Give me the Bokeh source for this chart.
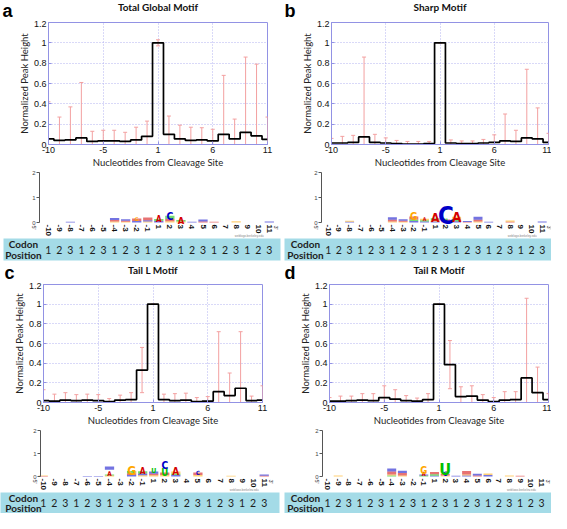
import math
from bokeh.plotting import figure
from bokeh.models import Range1d, FixedTicker, ColumnDataSource
from bokeh.layouts import row, column
from bokeh.embed import file_html
from bokeh.resources import INLINE
from bokeh.core.properties import value

# ---------------- data ----------------
positions = [-10, -9, -8, -7, -6, -5, -4, -3, -2, -1, 1, 2, 3, 4, 5, 6, 7, 8, 9, 10, 11]
axis_tick_positions = [-10, -5, 1, 6, 11]
y_ticks = [0, 0.2, 0.4, 0.6, 0.8, 1.0, 1.2]
bits_ticks = [0, 1, 2]
codon_position = [1, 2, 3, 1, 2, 3, 1, 2, 3, 1, 2, 3, 1, 2, 3, 1, 2, 3, 1, 2, 3]

title_a = "Total Global Motif"
title_b = "Sharp Motif"
title_c = "Tail L Motif"
title_d = "Tail R Motif"

peak_a = [0.055, 0.04, 0.045, 0.065, 0.03, 0.035, 0.035, 0.03, 0.045, 0.08, 1.0,
          0.1, 0.055, 0.04, 0.045, 0.035, 0.1, 0.055, 0.12, 0.085, 0.05]
err_a = [0.365, 0.23, 0.325, 0.545, 0.10, 0.105, 0.105, 0.09, 0.125, 0.15, 0.03,
         0.18, 0.135, 0.13, 0.12, 0.115, 0.58, 0.195, 0.74, 0.705, 0.22]

peak_b = [0.015, 0.015, 0.02, 0.075, 0.02, 0.015, 0.01, 0.005, 0.005, 0.01, 1.0,
          0.015, 0.01, 0.008, 0.015, 0.02, 0.035, 0.03, 0.065, 0.055, 0.02]
err_b = [0.045, 0.065, 0.07, 0.785, 0.08, 0.05, 0.03, 0.025, 0.025, 0.02, 0.0,
         0.03, 0.025, 0.027, 0.035, 0.075, 0.265, 0.11, 0.675, 0.305, 0.09]

peak_c = [0.02, 0.015, 0.025, 0.02, 0.025, 0.02, 0.01, 0.025, 0.03, 0.33, 1.0,
          0.03, 0.02, 0.025, 0.01, 0.015, 0.11, 0.07, 0.145, 0.02, 0.025]
err_c = [0.11, 0.07, 0.075, 0.06, 0.06, 0.06, 0.03, 0.05, 0.07, 0.23, 0.0,
         0.055, 0.07, 0.07, 0.04, 0.045, 0.61, 0.23, 0.575, 0.045, 0.145]

peak_d = [0.015, 0.015, 0.02, 0.025, 0.02, 0.05, 0.035, 0.02, 0.015, 0.03, 1.0,
          0.385, 0.06, 0.065, 0.025, 0.01, 0.025, 0.03, 0.25, 0.1, 0.03]
err_d = [0.035, 0.05, 0.045, 0.065, 0.07, 0.12, 0.095, 0.05, 0.03, 0.06, 0.0,
         0.245, 0.10, 0.105, 0.055, 0.04, 0.085, 0.08, 0.81, 0.26, 0.06]

# sequence logos: (position, stack of (letter, bits) from bottom to top)
logo_a = [
    (-8, [("C", 0.03)]),
    (-4, [("G", 0.04), ("A", 0.06), ("C", 0.08)]),
    (-3, [("G", 0.03), ("A", 0.04), ("C", 0.06)]),
    (-2, [("C", 0.06), ("A", 0.10), ("G", 0.15)]),
    (-1, [("G", 0.04), ("C", 0.05), ("A", 0.11)]),
    (1, [("C", 0.06), ("U", 0.08), ("A", 0.23)]),
    (2, [("G", 0.05), ("A", 0.09), ("U", 0.13), ("C", 0.30)]),
    (3, [("G", 0.04), ("U", 0.06), ("A", 0.27)]),
    (4, [("C", 0.03)]),
    (5, [("A", 0.04), ("C", 0.08)]),
    (6, [("A", 0.03)]),
    (8, [("G", 0.05)]),
    (11, [("C", 0.04)]),
]
logo_b = [
    (-8, [("C", 0.03), ("G", 0.04)]),
    (-4, [("G", 0.04), ("A", 0.07), ("C", 0.10)]),
    (-3, [("G", 0.03), ("A", 0.04), ("C", 0.06)]),
    (-2, [("C", 0.06), ("U", 0.06), ("A", 0.12), ("G", 0.29)]),
    (-1, [("C", 0.04), ("U", 0.05), ("G", 0.06), ("A", 0.15)]),
    (1, [("C", 0.04), ("G", 0.05), ("U", 0.08), ("A", 0.35)]),
    (2, [("G", 0.04), ("A", 0.08), ("U", 0.14), ("C", 0.69)]),
    (3, [("C", 0.05), ("U", 0.08), ("G", 0.10), ("A", 0.39)]),
    (4, [("A", 0.02), ("C", 0.04)]),
    (5, [("G", 0.04), ("A", 0.07), ("C", 0.12)]),
    (6, [("C", 0.03)]),
    (8, [("A", 0.03), ("G", 0.05)]),
    (11, [("C", 0.04)]),
]
logo_c = [
    (-10, [("A", 0.02), ("G", 0.02)]),
    (-6, [("C", 0.02)]),
    (-5, [("C", 0.02)]),
    (-4, [("G", 0.04), ("U", 0.05), ("A", 0.20), ("C", 0.14)]),
    (-2, [("C", 0.06), ("A", 0.08), ("U", 0.10), ("G", 0.38)]),
    (-1, [("G", 0.05), ("C", 0.08), ("U", 0.10), ("A", 0.26)]),
    (1, [("G", 0.05), ("A", 0.07), ("C", 0.10), ("U", 0.22)]),
    (2, [("G", 0.07), ("A", 0.10), ("U", 0.30), ("C", 0.32)]),
    (3, [("C", 0.06), ("U", 0.07), ("G", 0.09), ("A", 0.31)]),
    (5, [("G", 0.07), ("A", 0.10), ("C", 0.18)]),
    (8, [("G", 0.03)]),
    (11, [("A", 0.03), ("C", 0.06)]),
]
logo_d = [
    (-9, [("G", 0.04)]),
    (-4, [("U", 0.04), ("G", 0.05), ("A", 0.13), ("C", 0.13)]),
    (-3, [("G", 0.04), ("A", 0.11), ("C", 0.10)]),
    (-1, [("U", 0.04), ("C", 0.05), ("A", 0.18), ("G", 0.30)]),
    (1, [("C", 0.03), ("U", 0.07), ("A", 0.10)]),
    (2, [("G", 0.04), ("A", 0.08), ("C", 0.19), ("U", 0.51)]),
    (3, [("C", 0.03)]),
    (4, [("C", 0.04), ("G", 0.05), ("A", 0.15)]),
    (5, [("A", 0.04), ("C", 0.08)]),
    (6, [("C", 0.07), ("G", 0.06)]),
    (8, [("G", 0.04)]),
    (9, [("A", 0.03)]),
]

# ---------------- style / layout ----------------
FRAME_BLUE = "#9292e4"
GRID_BLUE = "#b3b3f0"
PINK = "#f3a0a0"
CYAN = "#a4dbe7"
LETTER_COLORS = {"A": "#d40000", "C": "#0000c8", "G": "#ffa800", "U": "#00bf00"}
LOGO_FONT = "Liberation Sans Narrow, DejaVu Sans Condensed, Liberation Sans"
TICK_FONT = "Liberation Sans"
LABEL_FONT = "Lato"

# sp = px per nucleotide column in logo / codon rows
LAY = {
    "a": dict(W=281, row="top", s_left=48, s_fw=219, axis_x=39, col0=47.8, sp=11.05,
              bar_left=3, bar_right=1, codon_cx=23, letter_x=2),
    "b": dict(W=270, row="top", s_left=50, s_fw=217, axis_x=40, col0=46.7, sp=10.7,
              bar_left=3, bar_right=0, codon_cx=24, letter_x=3),
    "c": dict(W=281, row="bottom", s_left=43, s_fw=219, axis_x=40, col0=42.7, sp=11.05,
              bar_left=0, bar_right=2, codon_cx=23, letter_x=4),
    "d": dict(W=270, row="bottom", s_left=48, s_fw=219, axis_x=41, col0=46.0, sp=10.7,
              bar_left=3, bar_right=0, codon_cx=24, letter_x=3),
}
# header: y measured in px from the header's bottom edge
ROWS = {
    "top": dict(head_h=20, title_y=14, letter_y=10, s_h=150, s_top=2, s_fh=122,
                logo_h=68, zero=52, ppb=25.0, codon_h=24, bar_top=0, bar_bot=2),
    "bottom": dict(head_h=20, title_y=13, letter_y=10, s_h=146, s_top=2, s_fh=118,
                   logo_h=63, zero=48, ppb=23.0, codon_h=22, bar_top=1, bar_bot=0),
}


def bare_fig(W, H, xr, yr, left=0, right=0, top=0, bottom=0, **kw):
    f = figure(x_range=xr, y_range=yr, output_backend="svg",
               toolbar_location=None, x_axis_location=None, y_axis_location=None,
               frame_width=W - left - right, frame_height=H - top - bottom,
               min_border_left=left, min_border_right=right,
               min_border_top=top, min_border_bottom=bottom, frame_align=False, **kw)
    f.title.visible = False
    f.grid.visible = False
    f.outline_line_color = None
    return f


def build_panel(key, mean, err, logo, title):
    L = LAY[key]
    R = ROWS[L["row"]]
    W = L["W"]
    SP = L["sp"]
    n = len(positions)
    xi = list(range(n))
    ppb = R["ppb"]

    # ---- header: panel letter and title ----
    hh = R["head_h"]
    hd = bare_fig(W, hh, Range1d(0, W), Range1d(0, hh))
    hd.text(x=[L["letter_x"]], y=[R["letter_y"]], text=[key], text_align="left",
            text_baseline="middle", text_font=value(TICK_FONT), text_font_style="bold",
            text_font_size="18px", text_color="black")
    hd.text(x=[L["s_left"] + L["s_fw"] / 2], y=[R["title_y"]], text=[title],
            text_align="center", text_baseline="middle", text_font=value(LABEL_FONT),
            text_font_style="bold", text_font_size="10px", text_color="#111111")

    # ---- peak-height step plot ----
    p = figure(width=W, height=R["s_h"], x_range=Range1d(0, n - 1), y_range=Range1d(0, 1.2),
               output_backend="svg", toolbar_location=None, frame_align=False,
               min_border_left=L["s_left"], min_border_right=W - L["s_left"] - L["s_fw"],
               min_border_top=R["s_top"], min_border_bottom=R["s_h"] - R["s_top"] - R["s_fh"])
    p.title.visible = False
    lo = [m - e for m, e in zip(mean, err)]
    up = [m + e for m, e in zip(mean, err)]
    src = ColumnDataSource(dict(x=xi, mean=mean, lo=lo, up=up))
    p.segment(x0="x", y0="lo", x1="x", y1="up", source=src, line_color=PINK, line_width=1)
    p.scatter(x="x", y="up", source=src, marker="dash", size=4, line_color=PINK, line_width=1)
    p.scatter(x="x", y="lo", source=src, marker="dash", size=4, line_color=PINK, line_width=1)
    p.step(x="x", y="mean", source=src, mode="center", line_color="black", line_width=1.7)

    xt = FixedTicker(ticks=[positions.index(t) for t in axis_tick_positions])
    p.xaxis.ticker = xt
    p.xgrid.ticker = xt
    p.xaxis.major_label_overrides = {positions.index(t): str(t) for t in axis_tick_positions}
    yt = FixedTicker(ticks=y_ticks)
    p.yaxis.ticker = yt
    p.ygrid.ticker = yt
    p.yaxis.major_label_overrides = {t: f"{t:g}" for t in y_ticks}
    p.grid.grid_line_color = GRID_BLUE
    p.grid.grid_line_dash = "1 2"
    p.outline_line_color = FRAME_BLUE
    p.axis.axis_line_color = FRAME_BLUE
    p.axis.major_tick_line_color = FRAME_BLUE
    p.axis.major_tick_in = 3
    p.axis.major_tick_out = 0
    p.axis.minor_tick_line_color = None
    p.axis.major_label_text_font = TICK_FONT
    p.axis.major_label_text_font_size = "9px"
    p.axis.major_label_text_color = "#111111"
    p.axis.major_label_standoff = 2
    p.axis.axis_label_text_font = LABEL_FONT
    p.axis.axis_label_text_font_size = "9.5px"
    p.axis.axis_label_text_font_style = "normal"
    p.axis.axis_label_text_color = "#222222"
    p.axis.axis_label_standoff = 1
    p.xaxis.axis_label = "Nucleotides from Cleavage Site"
    p.yaxis.axis_label = "Normalized Peak Height"

    # ---- sequence logo ----
    logo_right = 1
    frame_l = L["axis_x"] - 12
    xs = (frame_l - L["col0"]) / SP
    xe = xs + (W - frame_l - logo_right) / SP
    lg = figure(width=W, height=R["logo_h"], x_range=Range1d(xs, xe),
                y_range=Range1d(-(R["logo_h"] - R["zero"]) / ppb, R["zero"] / ppb),
                output_backend="svg", toolbar_location=None, x_axis_location=None,
                min_border_left=frame_l, min_border_right=logo_right,
                min_border_top=0, min_border_bottom=0, frame_align=False)
    lg.title.visible = False
    lg.grid.visible = False
    lg.outline_line_color = None
    lg.yaxis.fixed_location = (L["axis_x"] - L["col0"]) / SP
    lg.yaxis.ticker = FixedTicker(ticks=bits_ticks)
    lg.yaxis.bounds = (0, 2)
    lg.yaxis.axis_line_color = "#555555"
    lg.yaxis.major_tick_line_color = "#555555"
    lg.yaxis.minor_tick_line_color = None
    lg.yaxis.major_tick_out = 3
    lg.yaxis.major_tick_in = 0
    lg.yaxis.major_label_text_font_size = "6px"
    lg.yaxis.major_label_standoff = 1
    lg.yaxis.axis_label = "bits"
    lg.yaxis.axis_label_text_font_size = "6px"
    lg.yaxis.axis_label_text_font_style = "normal"
    lg.yaxis.axis_label_standoff = 2

    tx, ty, tt, tc, tf = [], [], [], [], []
    ql, qr, qb, qt, qc = [], [], [], [], []
    for pos, stack in logo:
        xc = positions.index(pos)
        y0 = 0.0
        for letter, h in stack:
            hp = h * ppb
            if hp >= 3.5:
                tx.append(xc)
                ty.append(y0)
                tt.append(letter)
                tc.append(LETTER_COLORS[letter])
                tf.append(f"{hp / 0.72:.1f}px")
            else:
                ql.append(xc - 0.42)
                qr.append(xc + 0.42)
                qb.append(y0)
                qt.append(y0 + h)
                qc.append(LETTER_COLORS[letter])
            y0 += h
    lg.quad(left=ql, right=qr, bottom=qb, top=qt, fill_color=qc, line_color=None, fill_alpha=0.55)
    lg.text(x=tx, y=ty, text=tt, text_color=tc, text_font_size=tf,
            text_font=value(LOGO_FONT), text_font_style="bold",
            text_align="center", text_baseline="alphabetic")
    lg.text(x=xi, y=[-2 / ppb] * n, text=[str(v) for v in positions], angle=-math.pi / 2,
            text_align="left", text_baseline="middle", text_font=value(TICK_FONT),
            text_font_style="bold", text_font_size="8px", text_color="#111111")
    x3 = n - 1 + 6.5 / SP
    lg.text(x=[(L["axis_x"] - 6 - L["col0"]) / SP, x3], y=[-3 / ppb, -3 / ppb],
            text=["5'", "3'"], angle=-math.pi / 2, text_align="left", text_baseline="middle",
            text_font=value(TICK_FONT), text_font_size="5.5px", text_color="#333333")
    lg.text(x=[n - 1 - 20 / SP], y=[-13 / ppb], text=["weblogo.berkeley.edu"],
            text_align="center", text_baseline="middle",
            text_font=value(TICK_FONT), text_font_size="3px", text_color="#888888")

    # ---- codon position bar ----
    cs = (L["bar_left"] - L["col0"]) / SP
    ce = (W - L["bar_right"] - L["col0"]) / SP
    cf = bare_fig(W, R["codon_h"], Range1d(cs, ce), Range1d(0, 1),
                  left=L["bar_left"], right=L["bar_right"], top=R["bar_top"],
                  bottom=R["bar_bot"], background_fill_color=CYAN)
    cf.text(x=xi, y=[0.5] * n, text=[str(c) for c in codon_position],
            text_align="center", text_baseline="middle", text_font=value(LABEL_FONT),
            text_font_size="10.5px", text_color="#1d1d1d")
    cx = (L["codon_cx"] - L["col0"]) / SP
    cf.text(x=[cx, cx], y=[0.76, 0.24], text=["Codon", "Position"], text_align="center",
            text_baseline="middle", text_font=value(LABEL_FONT), text_font_style="bold",
            text_font_size="10px", text_color="#1d1d1d")

    return column(hd, p, lg, cf, spacing=0)


pa = build_panel("a", peak_a, err_a, logo_a, title_a)
pb = build_panel("b", peak_b, err_b, logo_b, title_b)
pc = build_panel("c", peak_c, err_c, logo_c, title_c)
pd = build_panel("d", peak_d, err_d, logo_d, title_d)

layout = column(row(pa, pb, spacing=0), row(pc, pd, spacing=0), spacing=0)

open("out.html", "w").write(file_html(layout, INLINE))
